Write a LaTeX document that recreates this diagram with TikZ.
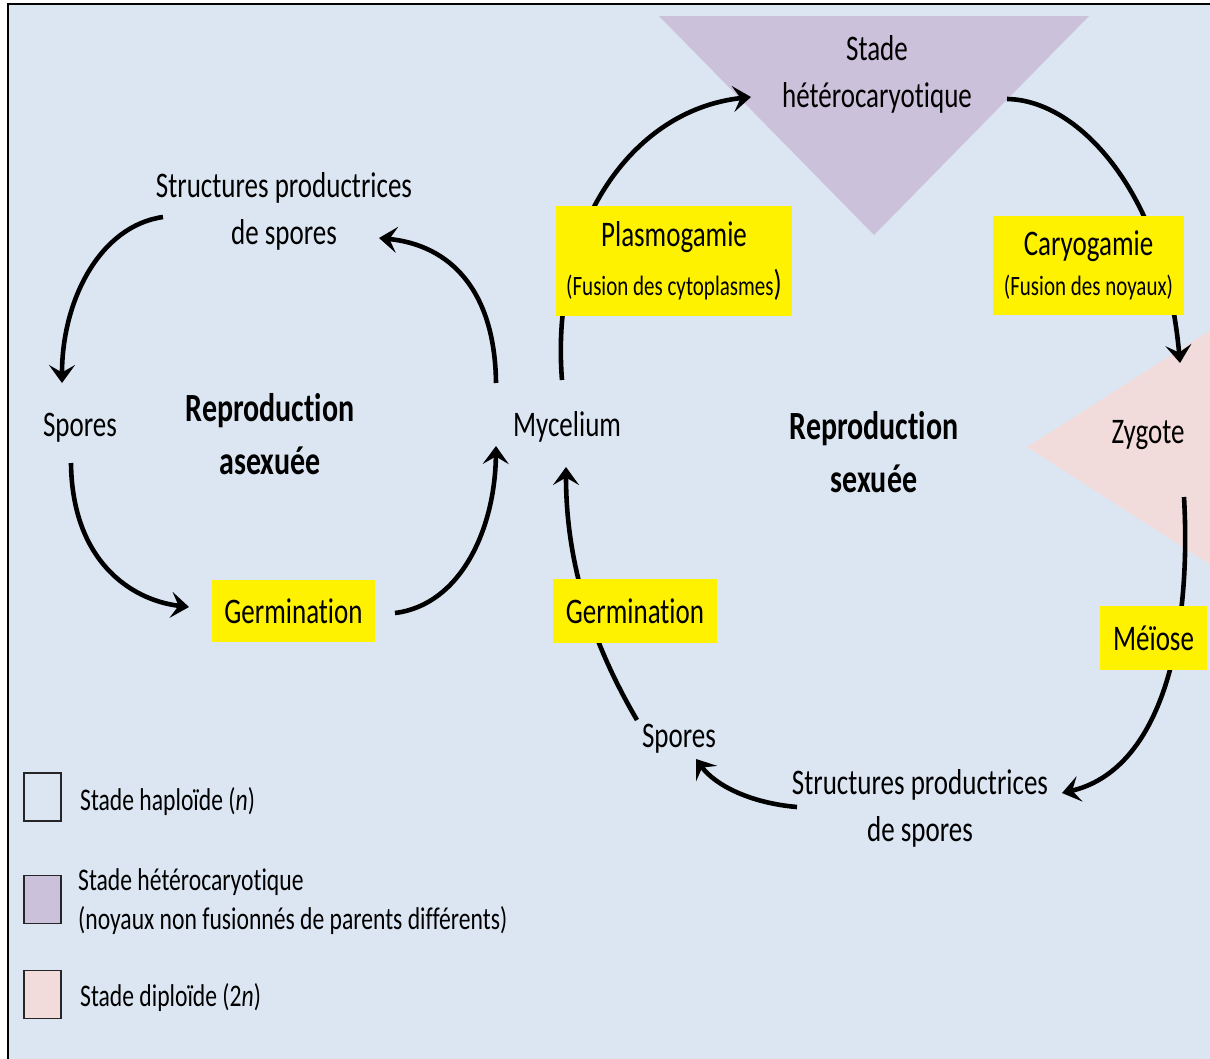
\documentclass[tikz,border=0pt]{standalone}
\usepackage{fontspec}
\setmainfont[FakeStretch=0.75,Ligatures=NoCommon]{Carlito}
\usetikzlibrary{arrows.meta}
\definecolor{bgblue}{HTML}{DCE6F2}
\definecolor{hetpurple}{HTML}{CCC1DA}
\definecolor{dippink}{HTML}{F2DCDB}
\newcommand\myfs[2]{\fontsize{#1}{#2}\selectfont}
\begin{document}
\begin{tikzpicture}[x=1pt,y=-1pt,
  lbl/.style={font=\myfs{36}{47}, align=center, inner sep=0pt},
  boldlbl/.style={font=\bfseries\myfs{40}{53}, align=center, inner sep=0pt},
  ybox/.style={fill=yellow, inner sep=0pt, align=center, font=\myfs{36}{50}},
  arr/.style={line width=4.6pt, -{Stealth[length=18pt,width=26pt,inset=7.5pt]}},
  legbox/.style={draw=black!85, line width=1.5pt, minimum width=37pt, minimum height=48pt, inner sep=0pt},
  legtxt/.style={font=\myfs{31.5}{39}, align=left, anchor=west, inner sep=0pt}]
\useasboundingbox (0,0) rectangle (1210,1058);
\clip (0,0) rectangle (1210,1058);
\fill[white] (0,0) rectangle (1210,1058);
\filldraw[fill=bgblue, draw=black, line width=2pt] (8,4) rectangle (1240,1090);

% stage shapes
\fill[hetpurple] (659,16) -- (1089,16) -- (874,235) -- cycle;
\fill[dippink] (1027,447) -- (1225,321) -- (1225,574) -- cycle;

% text nodes
\node[lbl] (sptop) at (284,211) {Structures productrices\\de spores};
\node[lbl] (spleft) at (80,428) {Spores};
\node[boldlbl] (asex) at (270,434) {Reproduction\\asexuée};
\node[lbl] (myc) at (567,427) {Mycelium};
\node[lbl] (het) at (877,74) {Stade\\hétérocaryotique};
\node[boldlbl] (sex) at (874,452) {Reproduction\\sexuée};
\node[lbl] (zyg) at (1148,435) {Zygote};
\node[lbl] (spbot) at (679,739) {Spores};
\node[lbl] (spstr) at (920,808) {Structures productrices\\de spores};

% connector end points
\coordinate (a1s) at (163,217); \coordinate (a1e) at (62,383);
\coordinate (a2s) at (71,463);  \coordinate (a2e) at (189,607);
\coordinate (a3s) at (395,613); \coordinate (a3e) at (496,446);
\coordinate (a4s) at (496,383); \coordinate (a4e) at (379,238);
\coordinate (a5s) at (562,380); \coordinate (a5e) at (751,97);
\coordinate (a6s) at (1007,99); \coordinate (a6e) at (1180,363);
\coordinate (a7s) at (1184,497); \coordinate (a7e) at (1062,793);
\coordinate (a8s) at (797,807); \coordinate (a8e) at (696,759);
\coordinate (a9s) at (637,720); \coordinate (a9e) at (566,467);

% connectors
\draw[arr] (a1s) .. controls (100,226) and (62,300) .. (a1e);
\draw[arr] (a2s) .. controls (72,560) and (130,600) .. (a2e);
\draw[arr] (a3s) .. controls (460,605) and (495,530) .. (a3e);
\draw[arr] (a4s) .. controls (495,290) and (450,245) .. (a4e);
\draw[arr] (a5s) .. controls (550,230) and (630,110) .. (a5e);
\draw[arr] (a6s) .. controls (1080,100) and (1165,195) .. (a6e);
\draw[arr] (a7s) .. controls (1192,640) and (1160,770) .. (a7e);
\draw[arr] (a8s) .. controls (750,803) and (715,785) .. (a8e);
\draw[arr] (a9s) .. controls (590,640) and (566,560) .. (a9e);

% yellow process boxes
\node[ybox, minimum width=163pt, minimum height=62pt] (germL) at (293.5,611) {Germination};
\node[ybox, minimum width=164pt, minimum height=64pt] (germR) at (635,611) {Germination};
\node[ybox, minimum width=236pt, minimum height=110pt] (plasmo) at (674,261)
  {Plasmogamie\\[-1pt]{\myfs{28}{40}(Fusion des cytoplasmes{\myfs{36}{40})}}};
\node[ybox, minimum width=191pt, minimum height=99pt] (caryo) at (1088.5,265.5)
  {Caryogamie\\[-10pt]{\myfs{28}{40}(Fusion des noyaux)}};
\node[ybox, minimum width=107pt, minimum height=64pt] (meiose) at (1153.5,638) {Méïose};

% legend
\node[legbox, fill=bgblue] (lh) at (42.5,797) {};
\node[legbox, fill=hetpurple] (lp) at (42.5,899.5) {};
\node[legbox, fill=dippink] (ld) at (42.5,994.5) {};
\node[legtxt] (th) at (80,802) {Stade haploïde (\textit{n})};
\node[legtxt] (tp) at (78,902) {Stade hétérocaryotique\\(noyaux non fusionnés de parents différents)};
\node[legtxt] (td) at (80,998) {Stade diploïde (2\textit{n})};
\end{tikzpicture}
\end{document}
